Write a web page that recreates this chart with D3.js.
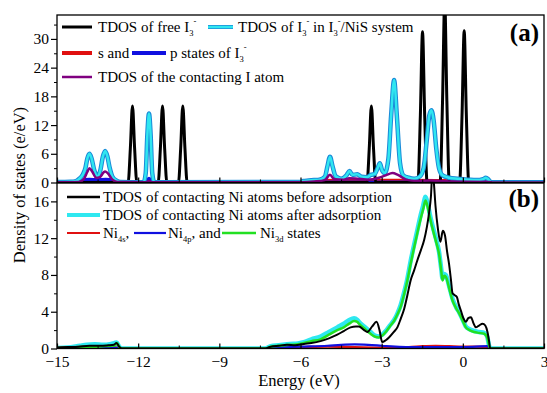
<!DOCTYPE html>
<html><head><meta charset="utf-8">
<script src="https://cdn.jsdelivr.net/npm/d3@7"></script>
</head><body style="margin:0">
<svg id="c" width="547" height="393" font-family="Liberation Serif"></svg>
<script>
// ---- data ----
const xTicks = [-15,-12,-9,-6,-3,0,3];
const yTicksA = [0,6,12,18,24,30];
const yTicksB = [0,4,8,12,16];

// panel (a) [energy, DOS]
const freeI3 = [[-15,0],[-12.37,0],[-12.29,7],[-12.21,16],[-12.13,7],[-12.05,0],
 [-11.26,0],[-11.18,7],[-11.1,16],[-11.02,7],[-10.94,0],
 [-10.51,0],[-10.43,7],[-10.35,16],[-10.27,7],[-10.19,0],
 [-3.54,0],[-3.46,7],[-3.38,16],[-3.3,7],[-3.22,0],
 [-1.66,0],[-1.57,14],[-1.49,31.5],[-1.41,14],[-1.32,0],
 [-0.84,0],[-0.75,17],[-0.67,38],[-0.59,17],[-0.5,0],
 [-0.12,0],[-0.03,14],[0.05,31.7],[0.13,14],[0.22,0],[3,0]];
const sysI3 = [[-15,0.1],[-14.5,0.15],[-14.3,0.3],[-14.15,0.9],[-14.05,1.6],[-13.95,3],[-13.88,5],[-13.8,6.0],[-13.72,5],[-13.62,2.5],[-13.5,1.3],[-13.4,2.5],[-13.3,5.5],[-13.22,6.6],[-13.14,5.5],[-13.05,3],[-12.95,1.2],[-12.8,0.4],[-12.65,0.1],
 [-11.8,0.05],[-11.72,2],[-11.66,10],[-11.6,14.4],[-11.54,10],[-11.48,2],[-11.4,0.05],
 [-6,0.1],[-5.9,0.3],[-5.7,0.4],[-5.5,0.5],[-5.3,0.6],[-5.1,1.2],[-5.0,3.5],[-4.91,5.4],[-4.82,3.5],[-4.7,1.3],[-4.5,0.8],[-4.3,1.5],[-4.19,2.4],[-4.08,1.6],[-3.9,1.7],[-3.75,1.2],[-3.55,1.1],[-3.4,1.6],[-3.25,1.8],[-3.15,3],[-3.07,4.0],[-2.98,2.5],[-2.88,2],[-2.75,5],[-2.65,14],[-2.54,21.4],[-2.44,14],[-2.32,4],[-2.2,1.5],[-2.0,1.0],[-1.8,0.8],[-1.6,1.2],[-1.45,3],[-1.33,9],[-1.24,14],[-1.16,15.1],[-1.08,13],[-0.98,7],[-0.88,3],[-0.75,1.5],[-0.5,1.0],[-0.2,0.8],[0.2,0.6],[0.5,0.5],[0.75,0.7],[0.85,1.0],[0.95,0.6],[1.05,0.05],[3,0.05]];
const sStatesA = [[-15,0],[-14.25,0],[-14.1,0.3],[-13.8,0.4],[-13.2,0.4],[-12.9,0.3],[-12.75,0],[-11.75,0],[-11.6,0.3],[-11.45,0],[-5.9,0],[-5.8,0.3],[-4,0.35],[-2,0.35],[0,0.3],[0.75,0.3],[0.85,0],[3,0]];
const pStatesA = [[-15,0],[-14.25,0],[-14.1,0.4],[-13.8,0.6],[-13.5,0.5],[-13.2,0.6],[-12.9,0.4],[-12.75,0],[-11.72,0],[-11.6,0.8],[-11.48,0],[3,0]];
const contactI = [[-15,0.05],[-14.2,0.1],[-14.0,0.8],[-13.88,2.2],[-13.8,3.0],[-13.7,2.3],[-13.55,1.0],[-13.4,1.2],[-13.28,2.1],[-13.22,2.3],[-13.12,1.9],[-12.95,0.6],[-12.75,0.1],[-11.7,0.05],[-11.6,0.3],[-11.5,0.05],[-6,0.05],[-5.5,0.2],[-5.1,0.5],[-4.91,1.6],[-4.75,0.7],[-4.4,0.6],[-4.2,0.9],[-3.9,0.8],[-3.5,0.6],[-3.1,1.0],[-2.85,1.5],[-2.6,2.0],[-2.4,1.6],[-2.1,0.6],[-1.7,0.3],[-1.2,0.4],[-0.5,0.2],[1,0.1],[1.1,0],[3,0]];

// panel (b)
const niBefore = [[-15,0.1],[-14.6,0.15],[-14.2,0.2],[-13.8,0.3],[-13.4,0.3],[-13.1,0.35],[-12.9,0.4],[-12.8,0.6],[-12.7,0.2],[-12.6,0],[-7.3,0],[-7.1,0.2],[-6.8,0.3],[-6.5,0.4],[-6.2,0.35],[-5.88,0.5],[-5.6,0.6],[-5.26,0.8],[-4.95,1.1],[-4.64,1.5],[-4.4,1.9],[-4.15,2.3],[-3.95,2.4],[-3.84,2.4],[-3.65,2.0],[-3.53,1.8],[-3.35,2.4],[-3.19,2.9],[-3.08,2.0],[-2.98,0.7],[-2.85,0.9],[-2.73,1.2],[-2.55,1.8],[-2.42,2.3],[-2.3,3.2],[-2.17,4.3],[-2.05,5.8],[-1.93,7.4],[-1.8,8.5],[-1.68,9.6],[-1.55,10.7],[-1.43,11.8],[-1.33,13.2],[-1.25,14.7],[-1.18,16.5],[-1.12,19.5],[-1.07,18],[-1.01,15.5],[-0.92,13],[-0.83,11.6],[-0.74,12.8],[-0.66,12.3],[-0.58,10.5],[-0.51,9.2],[-0.44,7.5],[-0.38,6.0],[-0.3,5.8],[-0.22,5.6],[-0.15,4.8],[-0.07,4.1],[0.02,3.3],[0.11,2.9],[0.2,3.3],[0.3,3.4],[0.4,2.7],[0.48,2.3],[0.6,2.5],[0.73,2.7],[0.83,2.5],[0.91,1.8],[0.97,0.8],[1.01,0],[3,0]];
const niAfter = [[-15,0.05],[-14.6,0.1],[-14.15,0.3],[-13.9,0.4],[-13.6,0.45],[-13.3,0.4],[-13.0,0.5],[-12.8,0.65],[-12.7,0.2],[-12.6,0],[-7.3,0],[-7.1,0.25],[-6.8,0.35],[-6.4,0.5],[-6.1,0.55],[-5.88,0.7],[-5.6,1.0],[-5.26,1.3],[-4.95,1.8],[-4.64,2.3],[-4.4,2.7],[-4.2,3.1],[-4.02,3.3],[-3.9,3.1],[-3.84,2.9],[-3.65,2.4],[-3.41,1.8],[-3.25,1.4],[-3.1,1.3],[-2.98,1.5],[-2.85,1.9],[-2.7,2.5],[-2.54,3.1],[-2.42,3.8],[-2.3,4.7],[-2.17,6.1],[-2.05,7.6],[-1.93,9.5],[-1.8,11.3],[-1.68,12.9],[-1.56,14.5],[-1.47,15.5],[-1.38,16.5],[-1.3,15.8],[-1.22,14.6],[-1.15,13.7],[-1.07,12.8],[-0.98,11.8],[-0.88,10.5],[-0.8,8.7],[-0.75,7.6],[-0.69,8.1],[-0.63,8.0],[-0.5,6.7],[-0.38,5.4],[-0.25,4.5],[-0.13,3.9],[0,3.1],[0.11,2.4],[0.25,2.1],[0.42,1.9],[0.6,1.8],[0.79,1.7],[0.9,1.3],[0.98,0.2],[1.04,0],[3,0]];
const ni4s = [[-15,0.05],[-14.5,0.15],[-13.5,0.2],[-13,0.15],[-12.7,0.05],[-12.6,0],[-7.2,0],[-7,0.1],[-6,0.15],[-5,0.2],[-4,0.15],[-3,0.1],[-2,0.15],[-1.5,0.25],[-1,0.3],[-0.5,0.25],[0,0.2],[0.5,0.2],[1.0,0.05],[1.05,0],[3,0]];
const ni4p = [[-15,0.05],[-14,0.1],[-13.2,0.15],[-12.7,0.05],[-12.6,0],[-7.2,0],[-7,0.1],[-6,0.2],[-5,0.3],[-4.5,0.4],[-4,0.45],[-3.5,0.4],[-3,0.3],[-2.5,0.2],[-2,0.15],[-1,0.15],[0,0.15],[0.5,0.2],[0.9,0.25],[1.0,0.05],[1.05,0],[3,0]];
const ni3d = [[-15,0.05],[-14.5,0.1],[-14.0,0.2],[-13.6,0.2],[-13.3,0.25],[-13.0,0.3],[-12.85,0.35],[-12.78,0.6],[-12.7,0.15],[-12.6,0],[-7.3,0],[-7.1,0.2],[-6.8,0.3],[-6.4,0.4],[-6.1,0.45],[-5.88,0.6],[-5.6,0.8],[-5.26,1.0],[-4.95,1.5],[-4.64,2.0],[-4.4,2.3],[-4.2,2.7],[-4.02,3.0],[-3.9,2.9],[-3.84,2.7],[-3.65,2.2],[-3.41,1.6],[-3.25,1.3],[-3.1,1.2],[-2.98,1.4],[-2.85,1.8],[-2.7,2.4],[-2.54,3.0],[-2.42,3.7],[-2.3,4.5],[-2.17,5.9],[-2.05,7.4],[-1.93,9.2],[-1.8,11.0],[-1.68,12.6],[-1.56,14.1],[-1.47,15.1],[-1.38,16.1],[-1.3,15.4],[-1.22,14.3],[-1.15,13.4],[-1.07,12.5],[-0.98,11.5],[-0.88,10.3],[-0.8,8.5],[-0.75,7.4],[-0.69,7.9],[-0.63,7.8],[-0.5,6.5],[-0.38,5.2],[-0.25,4.4],[-0.13,3.8],[0,3.0],[0.11,2.3],[0.25,2.0],[0.42,1.8],[0.6,1.7],[0.79,1.6],[0.9,1.2],[0.98,0.2],[1.04,0],[3,0]];

// ---- drawing ----
const svg = d3.select("#c");
const L = 57, R = 544;
const x = d3.scaleLinear().domain([-15,3]).range([L,R]);
const yA = d3.scaleLinear().domain([0,35]).range([182.5,15]);
const yB = d3.scaleLinear().domain([0,18]).range([348.5,183]);

const defs = svg.append("defs");
defs.append("clipPath").attr("id","ca").append("rect").attr("x",L).attr("y",15).attr("width",R-L).attr("height",167.5);
defs.append("clipPath").attr("id","cb").append("rect").attr("x",L).attr("y",183).attr("width",R-L).attr("height",165.5);

function line(y){ return d3.line().x(d=>x(d[0])).y(d=>y(d[1])).curve(d3.curveMonotoneX); }
function draw(g, data, y, color, w){
  g.append("path").datum(data).attr("d",line(y)).attr("fill","none").attr("stroke",color)
   .attr("stroke-width",w).attr("stroke-linejoin","round");
}
const gA = svg.append("g").attr("clip-path","url(#ca)");
draw(gA, sStatesA, yA, "#e01010", 4);
draw(gA, pStatesA, yA, "#1010e0", 4);
draw(gA, freeI3, yA, "#000", 3);
draw(gA, sysI3, yA, "#1a8ad8", 4.5);
draw(gA, sysI3, yA, "#30e6f0", 2.5);
draw(gA, contactI, yA, "#800080", 2.5);

const gB = svg.append("g").attr("clip-path","url(#cb)");
draw(gB, niAfter, yB, "#2ee8f0", 4.5);
draw(gB, ni4s, yB, "#e01010", 2.2);
draw(gB, ni4p, yB, "#1010e0", 2.2);
draw(gB, ni3d, yB, "#22e022", 2.5);
draw(gB, niBefore, yB, "#000", 2);

// frames
svg.append("rect").attr("x",L).attr("y",15).attr("width",R-L).attr("height",167.5).attr("fill","none").attr("stroke","#000").attr("stroke-width",1.3);
svg.append("rect").attr("x",L).attr("y",183).attr("width",R-L).attr("height",165.5).attr("fill","none").attr("stroke","#000").attr("stroke-width",1.3);

// axes
function yAxis(y, ticks, minor){
  const g = svg.append("g").attr("transform",`translate(${L},0)`)
    .call(d3.axisLeft(y).tickValues(ticks).tickSize(6).tickPadding(2));
  g.select(".domain").remove();
  g.attr("font-family","Liberation Serif");
  g.selectAll("text").attr("font-family","Liberation Serif").attr("font-size",15.5);
  g.selectAll(".tick line").attr("stroke-width",1.2);
  const gm = svg.append("g").attr("transform",`translate(${L},0)`)
    .call(d3.axisLeft(y).tickValues(minor).tickSize(3).tickFormat(""));
  gm.select(".domain").remove();
}
yAxis(yA, yTicksA, [3,9,15,21,27,33]);
yAxis(yB, yTicksB, [2,6,10,14]);

function xAxis(yPos, labels){
  const g = svg.append("g").attr("transform",`translate(0,${yPos})`)
    .call(d3.axisBottom(x).tickValues(xTicks).tickSize(-5).tickPadding(9).tickFormat(labels?d3.format("d"):""));
  g.select(".domain").remove();
  g.attr("font-family","Liberation Serif");
  g.selectAll("text").attr("font-family","Liberation Serif").attr("font-size",15.5).attr("y",7);
  g.selectAll(".tick line").attr("stroke-width",1.2);
  const gm = svg.append("g").attr("transform",`translate(0,${yPos})`)
    .call(d3.axisBottom(x).tickValues([-13.5,-10.5,-7.5,-4.5,-1.5,1.5]).tickSize(-3).tickFormat(""));
  gm.select(".domain").remove();
}
xAxis(182.5, false);
xAxis(348.5, true);

// labels
svg.append("text").attr("transform","translate(25,185) rotate(-90)").attr("text-anchor","middle")
  .attr("font-family","Liberation Serif").attr("font-size",16.5).text("Density of states (e/eV)");
svg.append("text").attr("x",299).attr("y",386).attr("text-anchor","middle")
  .attr("font-family","Liberation Serif").attr("font-size",16.5).text("Energy (eV)");
svg.append("text").attr("x",539).attr("y",41).attr("text-anchor","end")
  .attr("font-family","Liberation Serif").attr("font-size",25).attr("font-weight","bold").text("(a)");
svg.append("text").attr("x",539).attr("y",207).attr("text-anchor","end")
  .attr("font-family","Liberation Serif").attr("font-size",25).attr("font-weight","bold").text("(b)");

// legend helpers
function legLine(x1,x2,y,color,w,edge){
  if(edge) svg.append("line").attr("x1",x1).attr("x2",x2).attr("y1",y).attr("y2",y).attr("stroke",edge).attr("stroke-width",w+1.5);
  svg.append("line").attr("x1",x1).attr("x2",x2).attr("y1",y).attr("y2",y).attr("stroke",color).attr("stroke-width",w);
}
function legText(xp,y,parts){
  const t = svg.append("text").attr("x",xp).attr("y",y+5).attr("font-family","Liberation Serif").attr("font-size",15);
  let cur = 0;
  parts.forEach(p=>{
    if(typeof p === "string"){ t.append("tspan").attr("dy",-cur).text(p); cur=0; }
    else if(p.sub){ t.append("tspan").attr("dy",4-cur).attr("font-size",8.5).text(p.sub); cur=4; }
    else if(p.sup){ t.append("tspan").attr("dy",-8-cur).attr("font-size",8.5).text(p.sup); cur=-8; }
  });
  return t;
}
const I3 = ["I",{sub:"3"},{sup:"-"}];
// panel a legend
legLine(62,92,27,"#000",3);
legText(98,27,["TDOS of free ",...I3]);
legLine(208,233,27,"#30e6f0",2.5,"#1a8ad8");
legText(238,27,["TDOS of ",...I3," in ",...I3,"/NiS system"]);
legLine(62,92,53,"#e01010",4);
legText(98,53,["s and"]);
legLine(132,166,53,"#1010e0",4);
legText(170,53,["p states of ",...I3]);
legLine(62,92,77,"#800080",2.5);
legText(98,77,["TDOS of the contacting I atom"]);
// panel b legend
legLine(67,100,197,"#000",2.5);
legText(103,197,["TDOS of contacting Ni atoms before adsorption"]);
legLine(67,100,215,"#2ee8f0",4);
legText(103,215,["TDOS of contacting Ni atoms after adsorption"]);
legLine(67,100,233,"#e01010",2.2);
legText(103,233,["Ni",{sub:"4s"},","]);
legLine(134,166,233,"#1010e0",2.2);
legText(168,233,["Ni",{sub:"4p"},", and"]);
legLine(222,256,233,"#22e022",2.5);
legText(260,233,["Ni",{sub:"3d"}," states"]);
</script></body></html>
